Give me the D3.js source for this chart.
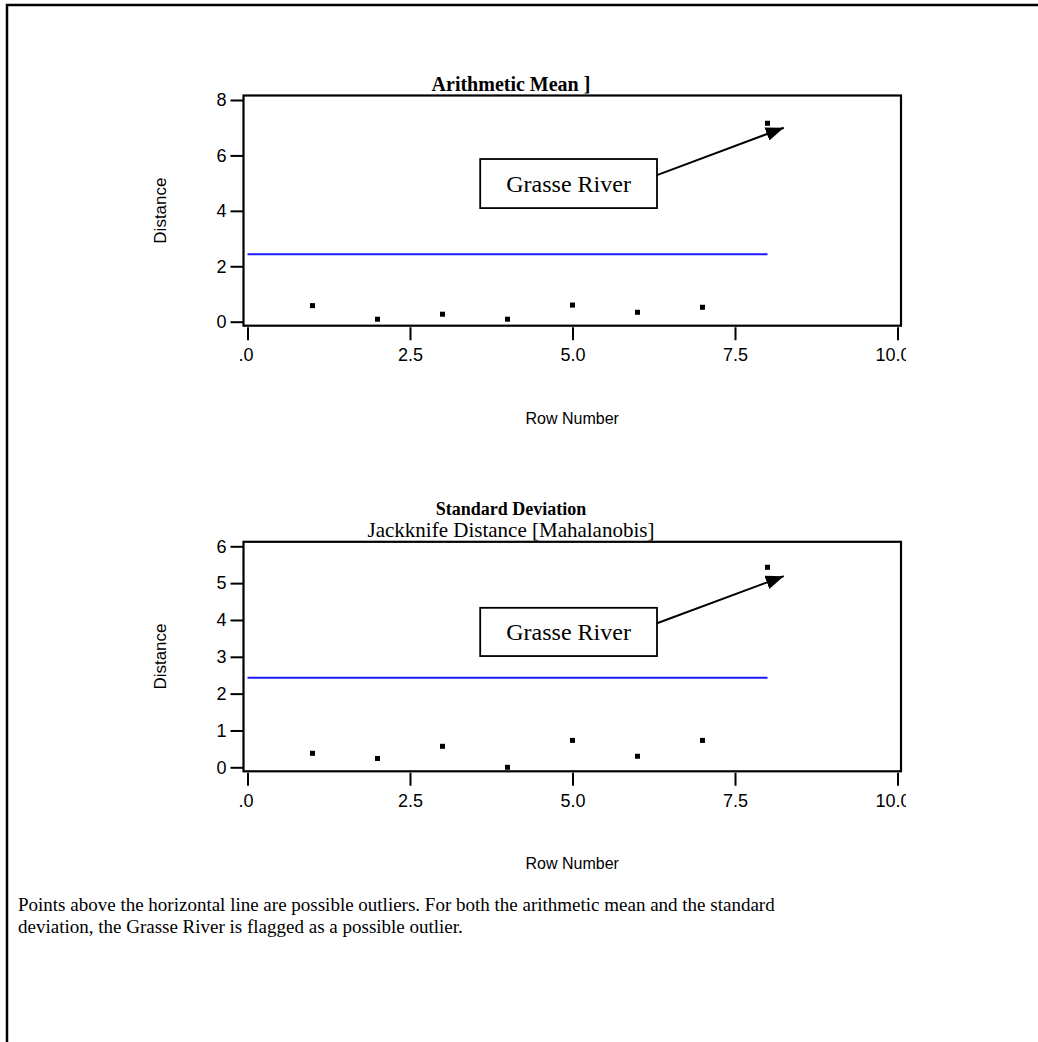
<!DOCTYPE html>
<html><head><meta charset="utf-8">
<script src="https://cdn.jsdelivr.net/npm/d3@7"></script>
<style>body{margin:0;background:#fff}</style>
</head><body>
<script>
// ---- data ----
const rowNumbers = [1, 2, 3, 4, 5, 6, 7, 8];
const meanDistances = [0.58, 0.09, 0.27, 0.09, 0.60, 0.34, 0.52, 7.16];
const sdDistances = [0.38, 0.24, 0.57, 0.0, 0.73, 0.30, 0.73, 5.43];
const upperLimit = 2.43;
const limitRange = [0, 8];
const xTickValues = [0, 2.5, 5, 7.5, 10];
const xTickLabels = [".0", "2.5", "5.0", "7.5", "10.0"];
const meanYTicks = [0, 2, 4, 6, 8];
const sdYTicks = [0, 1, 2, 3, 4, 5, 6];
const outlierLabel = "Grasse River";
const noteLines = [
  "Points above the horizontal line are possible outliers. For both the arithmetic mean and the standard",
  "deviation, the Grasse River is flagged as a possible outlier."
];

const W = 1038, H = 1042;
const SERIF = "Liberation Serif, Times New Roman, serif";
const SANS = "Liberation Sans, Arial, sans-serif";
const svg = d3.select("body").append("svg").attr("width", W).attr("height", H);
svg.append("rect").attr("width", W).attr("height", H).attr("fill", "#fff");
svg.append("path").attr("d", `M7,${H} V5 H${W}`).attr("fill", "none").attr("stroke", "#000").attr("stroke-width", 2.5);

const defs = svg.append("defs");
defs.append("marker").attr("id", "arrow").attr("viewBox", "0 0 18 14")
  .attr("refX", 18).attr("refY", 7).attr("markerWidth", 18).attr("markerHeight", 14)
  .attr("markerUnits", "userSpaceOnUse").attr("orient", "auto")
  .append("path").attr("d", "M0,0 L18,7 L0,14 Z").attr("fill", "#000");

function panel(cfg) {
  const g = svg.append("g");
  const x = d3.scaleLinear().domain([0, 10]).range([247.5, 897.5]);
  const y = d3.scaleLinear().domain([0, cfg.yMax]).range([cfg.y0, cfg.yTop]);
  const fx0 = 243.5, fx1 = 901, fy0 = cfg.yTop - 4.5, fy1 = cfg.y0 + 4;

  // titles
  cfg.titles.forEach(t => {
    g.append("text").attr("x", 511).attr("y", t.y).attr("text-anchor", "middle")
      .attr("font-family", SERIF)
      .attr("font-size", t.size).attr("font-weight", t.bold ? "bold" : "normal").text(t.text);
  });

  // frame
  g.append("rect").attr("x", fx0).attr("y", fy0).attr("width", fx1 - fx0).attr("height", fy1 - fy0)
    .attr("fill", "none").attr("stroke", "#000").attr("stroke-width", 2.2);

  // y axis
  const ya = g.append("g").attr("transform", `translate(${fx0},0)`)
    .call(d3.axisLeft(y).tickValues(cfg.yTicks).tickFormat(d3.format("d")).tickSize(13).tickPadding(4));
  ya.select(".domain").remove();
  ya.selectAll(".tick line").attr("stroke-width", 2);
  ya.selectAll("text").attr("font-family", SANS).attr("font-size", 18).attr("fill", "#000");

  // x axis (labels clipped at the ends as in the original)
  const clipId = "clip" + cfg.id;
  defs.append("clipPath").attr("id", clipId).append("rect")
    .attr("x", 234).attr("y", -2).attr("width", 906 - 234).attr("height", 60);
  const xa = g.append("g").attr("transform", `translate(0,${fy1 + 1.5})`).attr("clip-path", `url(#${clipId})`)
    .call(d3.axisBottom(x).tickValues(xTickValues).tickFormat((d, i) => xTickLabels[i]).tickSize(13).tickPadding(8));
  xa.select(".domain").remove();
  xa.selectAll(".tick line").attr("stroke-width", 2);
  xa.selectAll("text").attr("font-family", SANS).attr("font-size", 18).attr("fill", "#000");
  xa.selectAll("text").filter((d, i) => i === 0).attr("dx", -2);
  xa.selectAll("text").filter((d, i) => i === xTickValues.length - 1).attr("dx", -5);

  // axis titles
  g.append("text").attr("transform", `translate(166,${(fy0 + fy1) / 2}) rotate(-90)`)
    .attr("text-anchor", "middle").attr("font-family", SANS)
    .attr("font-size", 17).text("Distance");
  g.append("text").attr("x", (fx0 + fx1) / 2).attr("y", fy1 + 98).attr("text-anchor", "middle")
    .attr("font-family", SANS).attr("font-size", 16).text("Row Number");

  // limit line
  g.append("line").attr("x1", x(limitRange[0])).attr("x2", x(limitRange[1]))
    .attr("y1", y(upperLimit)).attr("y2", y(upperLimit))
    .attr("stroke", "#1a1aff").attr("stroke-width", 2);

  // points
  g.selectAll("rect.pt").data(rowNumbers).join("rect").attr("class", "pt")
    .attr("x", d => x(d) - 2.5).attr("y", (d, i) => y(cfg.values[i]) - 2.5)
    .attr("width", 5).attr("height", 5).attr("fill", "#000");

  // annotation
  const a = cfg.ann;
  g.append("rect").attr("x", x(a.x0)).attr("y", y(a.yTop)).attr("width", x(a.x1) - x(a.x0))
    .attr("height", y(a.yBot) - y(a.yTop)).attr("fill", "#fff").attr("stroke", "#000").attr("stroke-width", 1.8);
  g.append("text").attr("x", (x(a.x0) + x(a.x1)) / 2).attr("y", (y(a.yTop) + y(a.yBot)) / 2 + 8)
    .attr("text-anchor", "middle").attr("font-family", SERIF)
    .attr("font-size", 24).text(outlierLabel);
  g.append("line").attr("x1", x(a.x1)).attr("y1", y(a.yArrow0)).attr("x2", x(a.xTip)).attr("y2", y(a.yTip))
    .attr("stroke", "#000").attr("stroke-width", 2).attr("marker-end", "url(#arrow)");
}

panel({
  id: 1, yMax: 8, y0: 321.7, yTop: 100, yTicks: meanYTicks, values: meanDistances,
  titles: [{ text: "Arithmetic Mean ]", y: 91, size: 20, bold: true }],
  ann: { x0: 3.58, x1: 6.3, yTop: 5.87, yBot: 4.1, yArrow0: 5.29, xTip: 8.25, yTip: 7.0 }
});
panel({
  id: 2, yMax: 6, y0: 767.3, yTop: 546.3, yTicks: sdYTicks, values: sdDistances,
  titles: [{ text: "Standard Deviation", y: 515, size: 18, bold: true },
           { text: "Jackknife Distance [Mahalanobis]", y: 537, size: 21, bold: false }],
  ann: { x0: 3.58, x1: 6.3, yTop: 4.33, yBot: 3.02, yArrow0: 3.91, xTip: 8.25, yTip: 5.19 }
});

// footnote
svg.append("text").attr("font-family", SERIF).attr("font-size", 19)
  .selectAll("tspan").data(noteLines).join("tspan")
  .attr("x", 18).attr("y", (d, i) => 911 + i * 22).text(d => d);
</script>
</body></html>
